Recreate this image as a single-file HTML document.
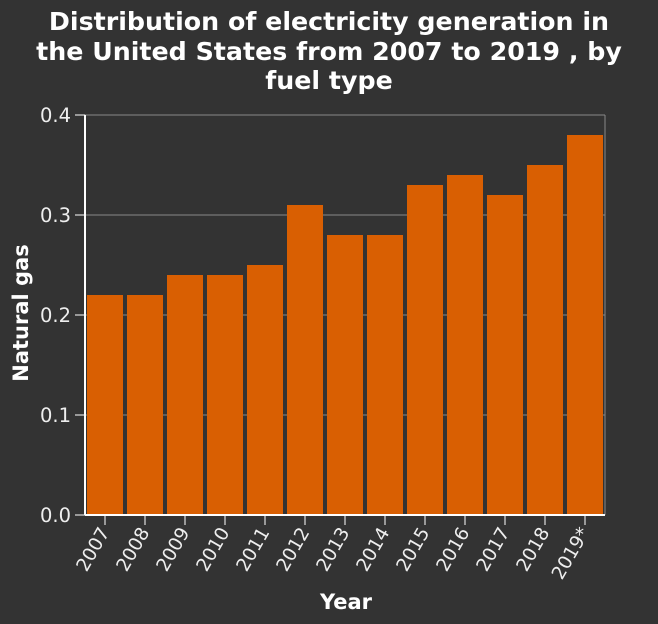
<!DOCTYPE html>
<html><head><meta charset="utf-8"><style>
html,body{margin:0;padding:0;background:#333;}
svg{display:block;font-family:"DejaVu Sans","Liberation Sans",sans-serif;}
</style></head><body>
<svg id="chart" width="658" height="624">
<rect width="658" height="624" fill="#333"/>
<text x="329" y="30" fill="#fff" font-size="25.3" font-weight="bold" text-anchor="middle">Distribution of electricity generation in</text>
<text x="329" y="60" fill="#fff" font-size="25.3" font-weight="bold" text-anchor="middle">the United States from 2007 to 2019 , by</text>
<text x="329" y="89" fill="#fff" font-size="25.3" font-weight="bold" text-anchor="middle">fuel type</text>
<g id="grid"></g><g id="bars"></g><g id="axes"></g>
<text x="346" y="609" fill="#fff" font-size="21" font-weight="bold" text-anchor="middle">Year</text>
<text transform="translate(28,313) rotate(-90)" fill="#fff" font-size="21" font-weight="bold" text-anchor="middle">Natural gas</text>
</svg>
<script>
const categories=["2007","2008","2009","2010","2011","2012","2013","2014","2015","2016","2017","2018","2019*"];
const values=[0.22,0.22,0.24,0.24,0.25,0.31,0.28,0.28,0.33,0.34,0.32,0.35,0.38];
const yTicks=[0,0.1,0.2,0.3,0.4];
const yTickLabels=["0.0","0.1","0.2","0.3","0.4"];
const NS="http://www.w3.org/2000/svg";
const X0=85,X1=605,Y0=515,Y1=115,yMax=0.4;
const band=(X1-X0)/categories.length;
const xs=i=>X0+i*band;
const ys=v=>Y0-(v/yMax)*(Y0-Y1);
function mk(tag,attrs,parent){const e=document.createElementNS(NS,tag);for(const k in attrs)e.setAttribute(k,attrs[k]);parent.appendChild(e);return e;}
const grid=document.getElementById('grid'),bars=document.getElementById('bars'),axes=document.getElementById('axes');
yTicks.forEach((t,i)=>{
 const y=ys(t);
 if(t>0){const g=mk('line',{x1:X0,x2:X1,y1:y,y2:y,stroke:'#888','stroke-width':1},grid);
 
 }
 const tk=mk('line',{x1:X0-10,x2:X0,y1:y,y2:y,stroke:'#fff','stroke-width':1},axes);
 
 
 const tx=mk('text',{x:X0-14,y:y+7,fill:'#eee','font-size':19.5,'text-anchor':'end'},axes);
 tx.textContent=yTickLabels[i];
 
 
});
categories.forEach((c,i)=>{
 const bx=xs(i)+2,bw=band-4,y=ys(values[i]);
 const r=mk('rect',{x:bx,y:y,width:bw,height:Y0-y,fill:'#d95f02'},bars);
 
 
 const cx=xs(i)+band/2;
 const tk=mk('line',{x1:cx,x2:cx,y1:Y0,y2:Y0+10,stroke:'#fff','stroke-width':1},axes);
 
 
 const tx=mk('text',{transform:`translate(${cx+5},${Y0+17}) rotate(-60)`,fill:'#eee','font-size':18.5,'text-anchor':'end'},axes);
 tx.textContent=c;
 
 
});
const ya=mk('line',{x1:X0,x2:X0,y1:Y1,y2:Y0,stroke:'#fff','stroke-width':2},axes);


const xa=mk('line',{x1:X0,x2:X1,y1:Y0,y2:Y0,stroke:'#fff','stroke-width':2},axes);


const rb=mk('line',{x1:X1,x2:X1,y1:Y1,y2:Y0,stroke:'#888','stroke-width':1},grid);


</script>
</body></html>
